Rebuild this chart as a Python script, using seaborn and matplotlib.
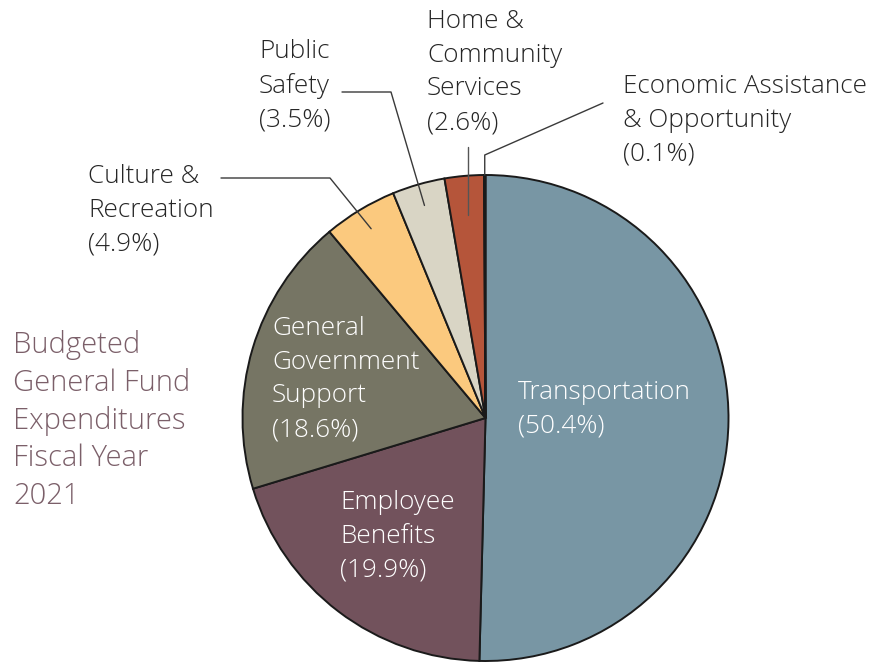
import numpy as np
import seaborn as sns
import matplotlib.pyplot as plt

sns.set_theme(style="white")
plt.rcParams['font.family'] = ['Open Sans', 'DejaVu Sans']

categories = ["Transportation", "Employee\nBenefits", "General\nGovernment\nSupport",
              "Culture &\nRecreation", "Public\nSafety", "Home &\nCommunity\nServices",
              "Economic Assistance\n& Opportunity"]
shares = [50.4, 19.9, 18.6, 4.9, 3.5, 2.6, 0.1]
colors = ["#7896a4", "#72525c", "#767564", "#fbc97e", "#d9d5c5", "#b5553a", "#d98a12"]

title_text = "Budgeted\nGeneral Fund\nExpenditures\nFiscal Year\n2021"

W, H = 870, 662
fig = plt.figure(figsize=(8.7, 6.62), dpi=100)
ax = fig.add_axes([0, 0, 1, 1])

cx, cy, R = 485.5, H - 418, 243
wedges, _ = ax.pie(shares, colors=colors, startangle=90, counterclock=False,
                   center=(cx, cy), radius=R, frame=True,
                   wedgeprops=dict(edgecolor="#1a1a1a", linewidth=1.4))
ax.set_xlim(0, W)
ax.set_ylim(0, H)
ax.axis("off")

fs = 18.8
lab = [f"{c}\n({s}%)" for c, s in zip(categories, shares)]
tkw = dict(fontsize=fs, fontweight="light", linespacing=1.46, va="top", ha="left")

# labels inside the pie
ax.text(518, H - 380, lab[0], color="white", **tkw)
ax.text(340, H - 490, lab[1], color="white", **tkw)
ax.text(272, H - 316, lab[2], color="white", **tkw)
# labels outside
ax.text(88, H - 164, lab[3], color="#262626", **tkw)
ax.text(259, H - 39, lab[4], color="#262626", **tkw)
ax.text(427, H - 9, lab[5], color="#262626", **tkw)
ax.text(623, H - 74, lab[6], color="#262626", **tkw)

# left title
ax.text(13, H - 330, title_text, color="#7b5f69", fontsize=21,
        fontweight="light", linespacing=1.36, va="top", ha="left")

# leader lines from wedge mid-angles
cum = np.cumsum([0] + shares)


def wedge_point(i, frac):
    mid = (cum[i] + cum[i + 1]) / 2 / 100 * 360
    a = np.deg2rad(90 - mid)
    return cx + frac * R * np.cos(a), cy + frac * R * np.sin(a)


lkw = dict(color="#3a3a3a", lw=1.0)
p = wedge_point(3, 0.91)
ax.plot([221, 330, p[0]], [H - 178, H - 178, p[1]], **lkw)
p = wedge_point(4, 0.91)
ax.plot([342, 391, p[0]], [H - 92, H - 92, p[1]], **lkw)
p = wedge_point(5, 0.84)
ax.plot([p[0], p[0]], [H - 147, p[1]], color="#555555", lw=1.0)
p = wedge_point(6, 1.0)
ax.plot([603, p[0], p[0]], [H - 103, H - 155, p[1]], **lkw)

fig.savefig("out.png", dpi=100)
